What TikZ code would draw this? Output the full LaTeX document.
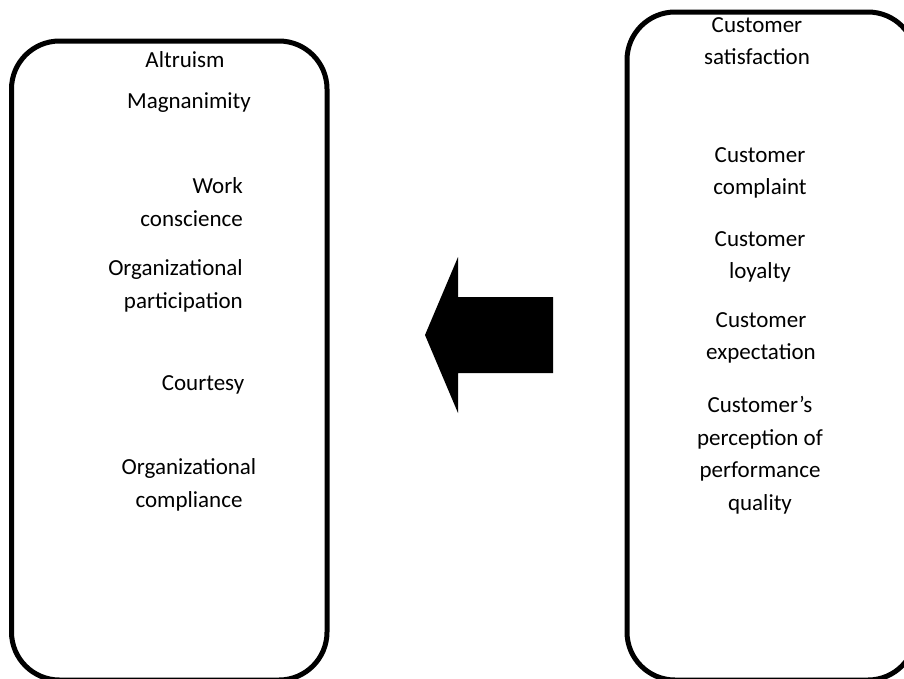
\documentclass[tikz,border=0pt]{standalone}
\usepackage{fontspec}
\setmainfont{Carlito}
\begin{document}
\begin{tikzpicture}[x=1pt,y=-1pt,
  panel/.style={draw=black,line width=5pt,rounded corners=48pt,rectangle,inner sep=0pt},
  label/.style={font=\fontsize{23}{32.5}\selectfont,align=center,inner sep=0pt},
  bigarrow/.style={fill=black}]
\useasboundingbox (0,0) rectangle (904,678);
% the two rounded panels
\node[panel,minimum width=315.5pt,minimum height=639pt] (leftbox) at (169.25,360.5) {};
\node[panel,minimum width=289pt,minimum height=668pt] (rightbox) at (771.5,346) {};
% items of the left panel
\node[label] (alt) at (185,60) {Altruism};
\node[label] (mag) at (189,103) {Magnanimity};
\node[label,align=right,anchor=east] (work) at (243,202) {Work\\conscience};
\node[label,align=right,anchor=east] (part) at (243,286) {Organizational\\participation};
\node[label] (court) at (203,385) {Courtesy};
\node[label] (compl) at (189,485) {Organizational\\compliance};
% items of the right panel
\node[label] (sat) at (757,41) {Customer\\satisfaction};
\node[label] (compt) at (760,173) {Customer\\complaint};
\node[label] (loy) at (760,257) {Customer\\loyalty};
\node[label] (exp) at (761,338) {Customer\\expectation};
\node[label] (perc) at (760,455) {Customer’s\\perception of\\performance\\quality};
% block arrow pointing from the right panel to the left one
\fill[bigarrow] (553,297) -- (458,297) -- (458,257) -- (425,335) -- (458,413) -- (458,373) -- (553,373) -- cycle;
\end{tikzpicture}
\end{document}
